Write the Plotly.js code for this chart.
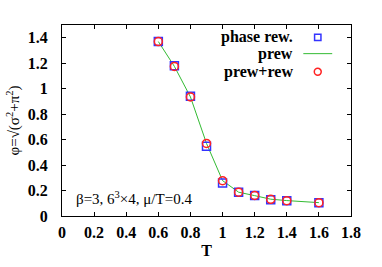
<!DOCTYPE html>
<html><head><meta charset="utf-8">
<script src="https://cdn.plot.ly/plotly-3.0.1.min.js"></script>
<style>html,body{margin:0;padding:0;background:#fff}#c{width:382px;height:267px}</style>
</head><body><div id="c"></div>
<script>
var T = [0.6, 0.7, 0.8, 0.9, 1.0, 1.1, 1.2, 1.3, 1.4, 1.6];
var phaseRew = [1.37, 1.18, 0.94, 0.548, 0.259, 0.187, 0.161, 0.128, 0.119, 0.105];
var prew = [1.37, 1.175, 0.935, 0.57, 0.278, 0.187, 0.16, 0.132, 0.121, 0.105];
var prewRew = [1.37, 1.175, 0.935, 0.57, 0.277, 0.187, 0.161, 0.131, 0.12, 0.105];
var xTicks = [0, 0.2, 0.4, 0.6, 0.8, 1, 1.2, 1.4, 1.6, 1.8];
var yTicks = [0, 0.2, 0.4, 0.6, 0.8, 1, 1.2, 1.4];
var legendLabels = ['phase rew.', 'prew', 'prew+rew'];

var serif = '"Liberation Serif", "DejaVu Serif", serif';
var traces = [
  {x: T, y: prew, mode: 'lines', line: {color: '#33bb33', width: 1}, showlegend: false},
  {x: T, y: phaseRew, mode: 'markers', marker: {symbol: 'square-open', size: 8, color: '#3333ff', line: {width: 1.5}}, showlegend: false},
  {x: T, y: prewRew, mode: 'markers', marker: {symbol: 'circle-open', size: 8, color: '#ff2222', line: {width: 1.5}}, showlegend: false}
];
var axisCommon = {
  showgrid: false, zeroline: false, showline: true, linecolor: '#000', linewidth: 1,
  mirror: 'allticks', ticks: 'inside', ticklen: 4, tickcolor: '#000',
  tickfont: {family: serif, size: 16, color: '#000', weight: 'bold'}
};
var layout = {
  width: 382, height: 267,
  font: {family: serif},
  margin: {l: 62, r: 31, t: 25, b: 51},
  paper_bgcolor: '#fff', plot_bgcolor: '#fff',
  xaxis: Object.assign({}, axisCommon, {range: [0, 1.8], tickvals: xTicks, ticktext: xTicks.map(String),
    ticklabelstandoff: 2,
    title: {text: '<b>T</b>', font: {family: serif, size: 16, color: '#000'}, standoff: 4}}),
  yaxis: Object.assign({}, axisCommon, {range: [0, 1.5], tickvals: yTicks, ticktext: yTicks.map(String),
    ticklabelstandoff: 10,
    title: {text: 'φ=√(σ<sup>2</sup>+π<sup>2</sup>)', font: {family: serif, size: 15, color: '#000'}, standoff: 4}}),
  annotations: [
    {xref: 'paper', yref: 'paper', x: 0.04, y: 0.095, xanchor: 'left', yanchor: 'middle', showarrow: false,
     text: 'β=3, 6<sup>3</sup>×4, μ/T=0.4', font: {family: serif, size: 15, color: '#000'}}
  ],
  shapes: []
};
var rowsY = [0.935, 0.85, 0.755];
legendLabels.forEach(function (lab, i) {
  layout.annotations.push({xref: 'paper', yref: 'paper', x: 0.806, y: rowsY[i], xanchor: 'right', yanchor: 'middle',
    showarrow: false, text: '<b>' + lab + '</b>', font: {family: serif, size: 16, color: '#000'}});
});
var sx = 0.885;
layout.shapes.push({type: 'rect', xref: 'paper', yref: 'paper', x0: sx - 0.011, x1: sx + 0.011, y0: rowsY[0] - 0.016, y1: rowsY[0] + 0.016, line: {color: '#3333ff', width: 1.5}});
layout.shapes.push({type: 'line', xref: 'paper', yref: 'paper', x0: 0.835, x1: 0.935, y0: rowsY[1], y1: rowsY[1], line: {color: '#33bb33', width: 1}});
layout.shapes.push({type: 'circle', xref: 'paper', yref: 'paper', x0: sx - 0.012, x1: sx + 0.012, y0: rowsY[2] - 0.018, y1: rowsY[2] + 0.018, line: {color: '#ff2222', width: 1.5}});
Plotly.newPlot('c', traces, layout, {staticPlot: true, displayModeBar: false});
</script></body></html>
